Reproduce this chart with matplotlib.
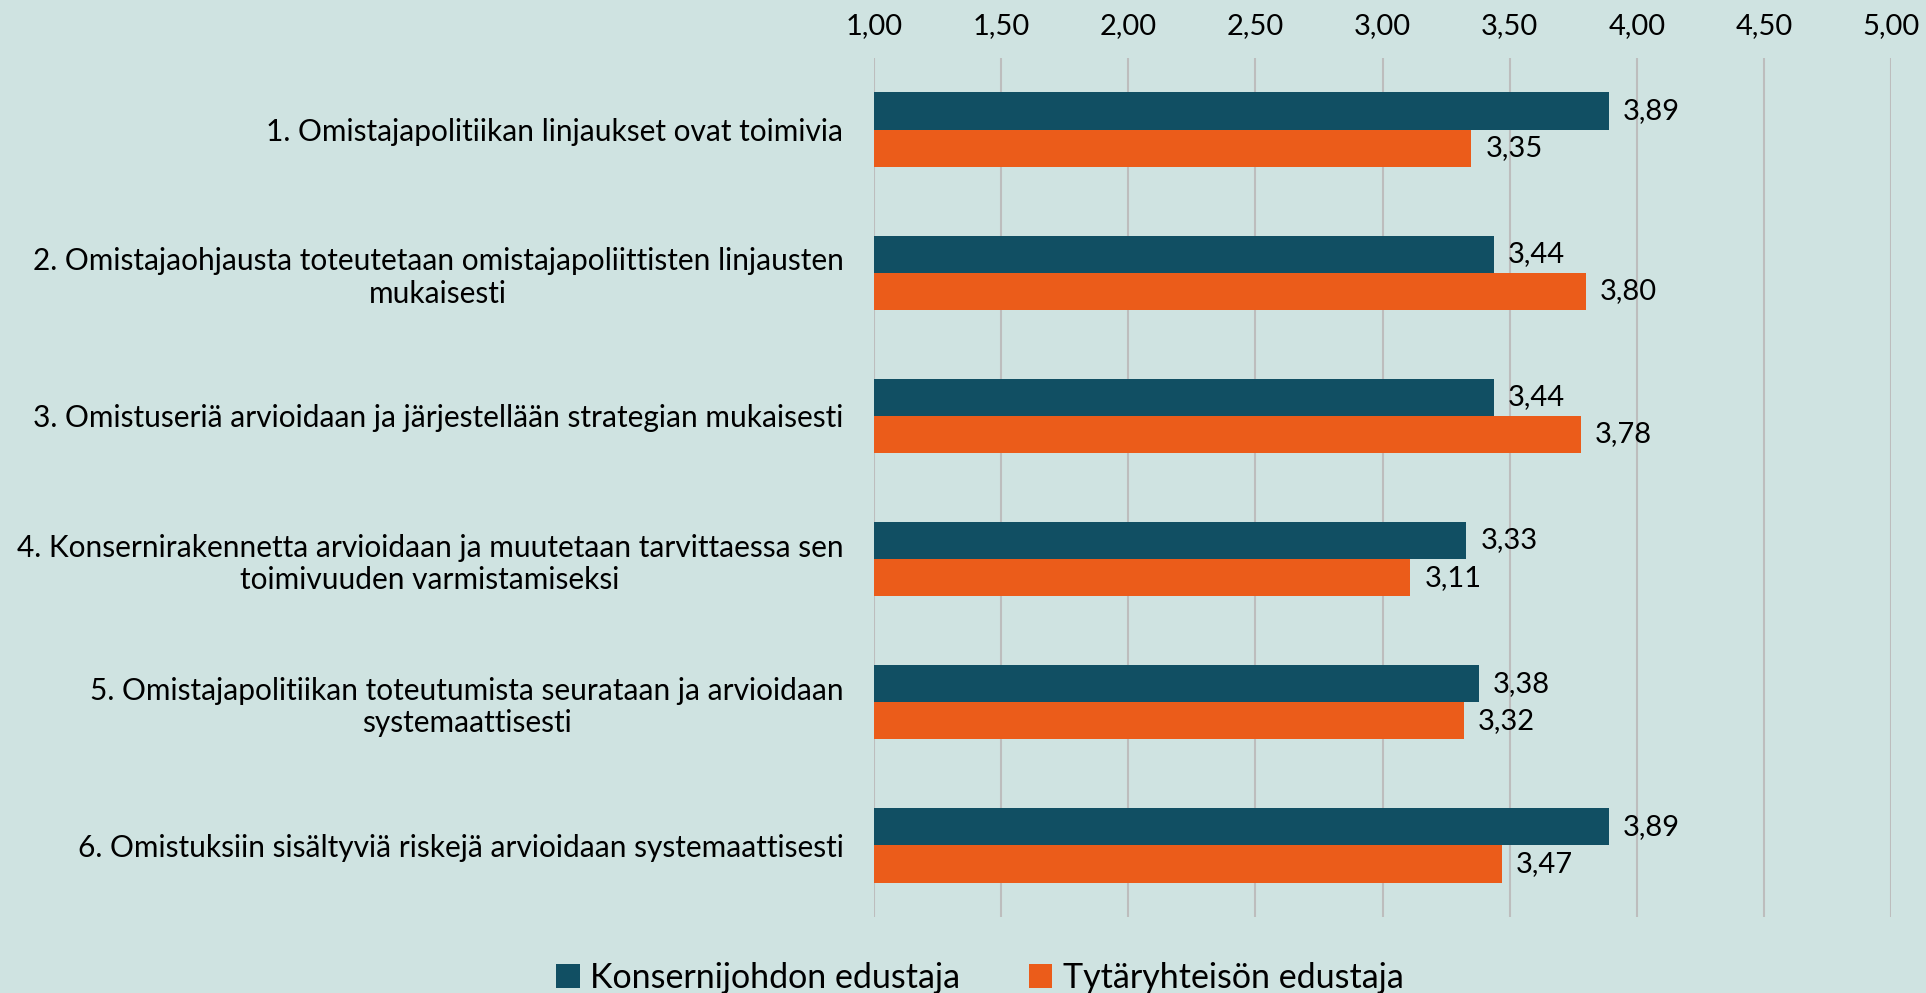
import matplotlib
matplotlib.use("Agg")
import matplotlib.pyplot as plt
import numpy as np

plt.rcParams['font.family'] = ['Lato', 'DejaVu Sans']

categories = [
    "1. Omistajapolitiikan linjaukset ovat toimivia",
    "2. Omistajaohjausta toteutetaan omistajapoliittisten linjausten\nmukaisesti",
    "3. Omistuseriä arvioidaan ja järjestellään strategian mukaisesti",
    "4. Konsernirakennetta arvioidaan ja muutetaan tarvittaessa sen\ntoimivuuden varmistamiseksi",
    "5. Omistajapolitiikan toteutumista seurataan ja arvioidaan\nsystemaattisesti",
    "6. Omistuksiin sisältyviä riskejä arvioidaan systemaattisesti",
]
series_names = ["Konsernijohdon edustaja", "Tytäryhteisön edustaja"]
konserni = [3.89, 3.44, 3.44, 3.33, 3.38, 3.89]
tytar = [3.35, 3.80, 3.78, 3.11, 3.32, 3.47]
xticks = [1.0, 1.5, 2.0, 2.5, 3.0, 3.5, 4.0, 4.5, 5.0]

BG = "#CFE3E1"
C1 = "#114F63"
C2 = "#EB5C1A"

fig = plt.figure(figsize=(19.26, 9.93), dpi=100, facecolor=BG)
ax = fig.add_axes([874/1926, 1-917/993, (1891-874)/1926, (917-58)/993])
ax.set_facecolor(BG)

y = np.arange(len(categories))
h = 0.26
b1 = ax.barh(y - h/2, np.array(konserni) - 1.0, left=1.0, height=h, color=C1, label=series_names[0], zorder=3)
b2 = ax.barh(y + h/2, np.array(tytar) - 1.0, left=1.0, height=h, color=C2, label=series_names[1], zorder=3)

fmt = lambda v: f"{v:.2f}".replace(".", ",")
for bars, vals in ((b1, konserni), (b2, tytar)):
    for rect, v in zip(bars, vals):
        ax.annotate(fmt(v), (v, rect.get_y() + rect.get_height()/2), xytext=(10, 0),
                    textcoords="offset points", va="center", ha="left", fontsize=21, color="black")

ax.set_xlim(1.0, 5.0)
ax.set_ylim(len(categories) - 0.5, -0.5)
ax.set_xticks(xticks)
ax.set_xticklabels([fmt(t) for t in xticks], fontsize=21)
ax.xaxis.tick_top()
ax.tick_params(axis="x", length=0, pad=14)
ax.set_yticks(y)
ax.set_yticklabels(categories, fontsize=21.5, multialignment="center", linespacing=1.2)
ax.tick_params(axis="y", length=0, pad=22)
ax.grid(axis="x", color="#BDBDBD", linewidth=1.5, zorder=0)
for s in ax.spines.values():
    s.set_visible(False)

fig.legend(handles=[b1, b2], labels=series_names, loc="center", bbox_to_anchor=(980/1926, 1-978/993),
           ncol=2, frameon=False, fontsize=24.5, handlelength=0.7, handleheight=0.7,
           handletextpad=0.3, columnspacing=2.0)

fig.savefig("out.png", dpi=100, facecolor=BG)
